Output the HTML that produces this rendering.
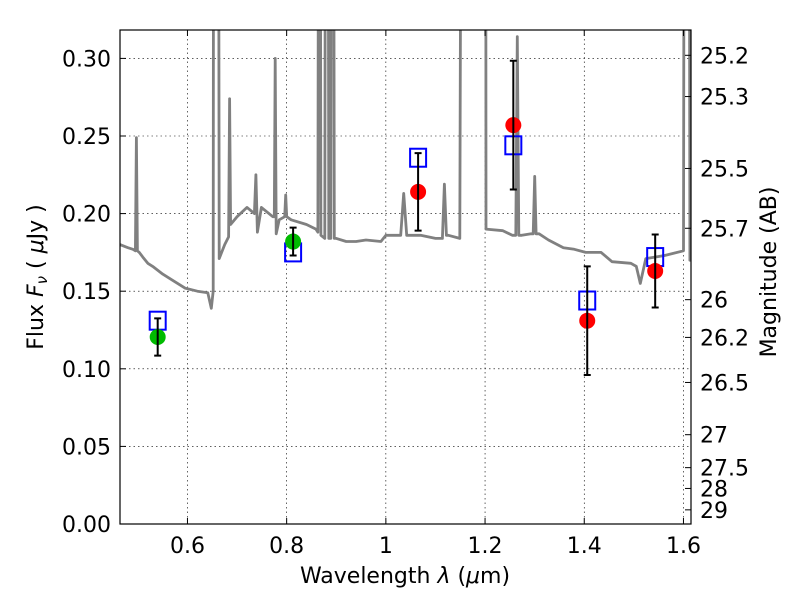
<!DOCTYPE html>
<html><head><meta charset="utf-8"><style>
html,body{margin:0;padding:0;background:#fff;}
svg text{font-family:"DejaVu Sans","Liberation Sans",sans-serif;fill:#000;}
</style></head><body>
<svg id="chart" width="800" height="600" xmlns="http://www.w3.org/2000/svg">
<defs><clipPath id="clip"><rect x="120" y="30" width="571" height="494"/></clipPath></defs>
<rect x="0" y="0" width="800" height="600" fill="#fff"/>
<g id="grid"></g>
<g id="spec" clip-path="url(#clip)"></g>
<g id="marks"></g>
<rect x="120" y="30" width="571" height="494" fill="none" stroke="#000" stroke-width="1.2"/>
<g id="axes"></g>
<text x="405" y="583" font-size="22" text-anchor="middle">Wavelength  <tspan font-style="italic">λ</tspan> (<tspan font-style="italic">μ</tspan>m)</text>
<text transform="translate(43,277) rotate(-90)" font-size="22" text-anchor="middle">Flux  <tspan font-style="italic">F</tspan><tspan font-style="italic" font-size="15" dy="4">ν</tspan><tspan dy="-4">  (  </tspan><tspan font-style="italic">μ</tspan>Jy )</text>
<text transform="translate(776,272) rotate(-90)" font-size="22" text-anchor="middle">Magnitude (AB)</text>
</svg>
<script>
const xTicks=[0.6,0.8,1.0,1.2,1.4,1.6];
const xTickLabels=["0.6","0.8","1","1.2","1.4","1.6"];
const yTicks=[0,0.05,0.10,0.15,0.20,0.25,0.30];
const yTickLabels=["0.00","0.05","0.10","0.15","0.20","0.25","0.30"];
const magTicks=[25.2,25.3,25.5,25.7,26,26.2,26.5,27,27.5,28,29];
const magTickLabels=["25.2","25.3","25.5","25.7","26","26.2","26.5","27","27.5","28","29"];
const specWave=[0.464,0.48,0.49,0.495,0.497,0.499,0.503,0.51,0.52,0.53,0.55,0.57,0.595,0.62,0.641,0.648,0.652,0.6525,0.663,0.664,0.675,0.683,0.685,0.687,0.70,0.72,0.735,0.738,0.741,0.749,0.772,0.775,0.777,0.779,0.785,0.796,0.798,0.800,0.809,0.840,0.859,0.863,0.864,0.868,0.869,0.877,0.878,0.884,0.885,0.889,0.890,0.895,0.896,0.90,0.92,0.94,0.96,0.99,1.00,1.03,1.036,1.042,1.048,1.07,1.10,1.114,1.118,1.122,1.126,1.149,1.151,1.2015,1.202,1.236,1.255,1.262,1.265,1.268,1.274,1.293,1.297,1.300,1.303,1.309,1.328,1.358,1.38,1.403,1.434,1.456,1.494,1.505,1.513,1.524,1.562,1.600,1.601,1.612,1.613,1.62];
const specFlux=[0.180,0.178,0.177,0.176,0.249,0.176,0.175,0.172,0.168,0.166,0.161,0.157,0.152,0.150,0.149,0.139,0.150,0.40,0.40,0.171,0.180,0.185,0.274,0.193,0.198,0.204,0.200,0.225,0.188,0.204,0.198,0.198,0.300,0.187,0.196,0.198,0.212,0.198,0.196,0.193,0.190,0.188,0.40,0.40,0.186,0.184,0.40,0.40,0.184,0.184,0.40,0.40,0.184,0.184,0.182,0.182,0.183,0.182,0.186,0.186,0.213,0.186,0.186,0.186,0.184,0.184,0.219,0.186,0.186,0.184,0.40,0.40,0.190,0.189,0.186,0.186,0.314,0.186,0.186,0.187,0.187,0.224,0.187,0.187,0.183,0.178,0.177,0.175,0.175,0.169,0.168,0.166,0.155,0.171,0.173,0.176,0.40,0.40,0.170,0.170];
const obsWave=[0.540,0.813,1.065,1.257,1.406,1.543];
const obsFlux=[0.1205,0.182,0.214,0.257,0.131,0.163];
const obsErr=[0.012,0.009,0.025,0.0415,0.035,0.0235];
const obsColor=["#00bb00","#00bb00","#ff0000","#ff0000","#ff0000","#ff0000"];
const modelFlux=[0.131,0.175,0.236,0.244,0.144,0.172];

const NS="http://www.w3.org/2000/svg";
const X=v=>120+(v-0.464)*496;
const Y=v=>524-v*1552;
const magToFlux=m=>Math.pow(10,(23.9-m)/2.5);
function mk(tag,attrs,parent){const e=document.createElementNS(NS,tag);for(const k in attrs)e.setAttribute(k,attrs[k]);parent.appendChild(e);return e;}
const grid=document.getElementById('grid'),axes=document.getElementById('axes'),spec=document.getElementById('spec'),marks=document.getElementById('marks');
xTicks.forEach((t,i)=>{
  const x=X(t);
  const g=mk('line',{x1:x,x2:x,y1:30,y2:524,stroke:'#000','stroke-width':0.6,'stroke-dasharray':'1.5,3'},grid);
  
  
  const tk=mk('line',{x1:x,x2:x,y1:524,y2:518,stroke:'#000','stroke-width':1},axes);
  
  
  const tk2=mk('line',{x1:x,x2:x,y1:30,y2:36,stroke:'#000','stroke-width':1},axes);
  
  
  const l=mk('text',{x:x,y:553,'font-size':22,'text-anchor':'middle'},axes);
  l.textContent=xTickLabels[i];
  
  
});
yTicks.forEach((t,i)=>{
  const y=Y(t);
  if(t>0){const g=mk('line',{x1:120,x2:691,y1:y,y2:y,stroke:'#000','stroke-width':0.6,'stroke-dasharray':'1.5,3'},grid);
  
  }
  const tk=mk('line',{x1:120,x2:126,y1:y,y2:y,stroke:'#000','stroke-width':1},axes);
  
  
  const l=mk('text',{x:111,y:y+8,'font-size':22,'text-anchor':'end'},axes);
  l.textContent=yTickLabels[i];
  
  
});
magTicks.forEach((m,i)=>{
  const y=Y(magToFlux(m));
  const tk=mk('line',{x1:691,x2:685,y1:y,y2:y,stroke:'#000','stroke-width':1},axes);
  
  
  const l=mk('text',{x:700,y:y+8,'font-size':22,'text-anchor':'start'},axes);
  l.textContent=magTickLabels[i];
  
  
});
let d='';
specWave.forEach((w,i)=>{d+=(i?'L':'M')+X(w).toFixed(1)+','+Y(specFlux[i]).toFixed(1);});
const p=mk('path',{d:d,fill:'none',stroke:'#808080','stroke-width':2.8,'stroke-linejoin':'round'},spec);


obsWave.forEach((w,i)=>{
  const x=X(w);
  const s=mk('rect',{x:x-8,y:Y(modelFlux[i])-9,width:16,height:18,fill:'none',stroke:'#0000ff','stroke-width':2},marks);
  
  
  const c=mk('circle',{cx:x,cy:Y(obsFlux[i]),r:8,fill:obsColor[i]},marks);
  
  
  const y1=Y(obsFlux[i]+obsErr[i]),y2=Y(obsFlux[i]-obsErr[i]);
  const e=mk('path',{d:`M${x},${y1}L${x},${y2}M${x-3.5},${y1}L${x+3.5},${y1}M${x-3.5},${y2}L${x+3.5},${y2}`,stroke:'#000','stroke-width':2,fill:'none'},marks);
  
  
});
</script>
</body></html>
